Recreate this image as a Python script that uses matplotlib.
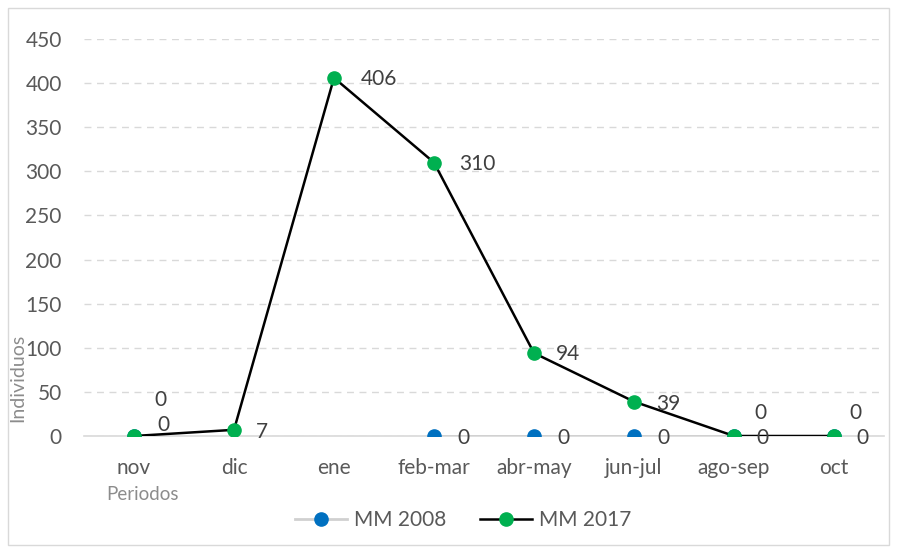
import numpy as np
import matplotlib.pyplot as plt
from matplotlib.patches import Rectangle

plt.rcParams['font.family'] = ['Lato', 'DejaVu Sans']

periodos = ['nov', 'dic', 'ene', 'feb-mar', 'abr-may', 'jun-jul', 'ago-sep', 'oct']
mm2008 = [0, np.nan, np.nan, 0, 0, 0, 0, 0]
mm2017 = [0, 7, 406, 310, 94, 39, 0, 0]

# label offsets in pixels (dx, dy)
off2008 = [(26, 36), None, None, (29, -2), (29, -2), (29, -2), (28, -2), (28, -2)]
off2017 = [(29, 11), (28, -2), (45, -1), (43, -1), (34, -1), (34, -2), (26, 23), (21, 23)]

fig = plt.figure(figsize=(8.97, 5.53), dpi=100)
fig.patches.append(Rectangle((8/897, 8/553), 881/897, 537/553, transform=fig.transFigure,
                             fill=False, edgecolor='#d9d9d9', linewidth=1))
ax = fig.add_axes([84/897, 117/553, 800/897, 397/553])

x = np.arange(len(periodos))
ax.plot(x, mm2008, color='#d0d0d0', linewidth=2, marker='o', markersize=9.5,
        markerfacecolor='#0070C0', markeredgecolor='#0070C0', label='MM 2008', zorder=3)
ax.plot(x, mm2017, color='black', linewidth=1.8, marker='o', markersize=9.5,
        markerfacecolor='#00B050', markeredgecolor='#00B050', label='MM 2017', zorder=4)

for i in range(len(periodos)):
    if off2008[i] is not None and not np.isnan(mm2008[i]):
        ax.annotate(str(int(mm2008[i])), (x[i], mm2008[i]), xytext=off2008[i],
                    textcoords='offset pixels', ha='center', va='center',
                    fontsize=15, color='#404040', zorder=5)
    ax.annotate(str(mm2017[i]), (x[i], mm2017[i]), xytext=off2017[i],
                textcoords='offset pixels', ha='center', va='center',
                fontsize=15, color='#404040', zorder=5)

ax.set_xlim(-0.5, 7.5)
ax.set_ylim(0, 450)
ax.set_yticks(np.arange(0, 451, 50))
ax.set_xticks(x)
ax.set_xticklabels(periodos)
ax.yaxis.grid(True, linestyle=(0, (5, 4)), color='#d9d9d9', linewidth=1)
ax.set_axisbelow(True)
for s in ['top', 'right', 'left']:
    ax.spines[s].set_visible(False)
ax.spines['bottom'].set_color('#d9d9d9')
ax.spines['bottom'].set_linewidth(1.2)
ax.tick_params(axis='both', length=0, labelsize=15, labelcolor='#595959')
ax.tick_params(axis='y', pad=16)
ax.tick_params(axis='x', pad=16)

fig.text(143/897, 1 - 495/553, 'Periodos', ha='center', va='center', fontsize=13.5, color='#8c8c8c')
fig.text(18/897, 1 - 378/553, 'Individuos', ha='center', va='center', rotation=90,
         fontsize=14, color='#8c8c8c')

fig.legend(loc='center', bbox_to_anchor=(463/897, 1 - 520/553), ncol=2, frameon=False,
           fontsize=15, labelcolor='#595959', handlelength=2.5, handletextpad=0.35,
           columnspacing=1.6)

fig.savefig('out.png', dpi=100)
